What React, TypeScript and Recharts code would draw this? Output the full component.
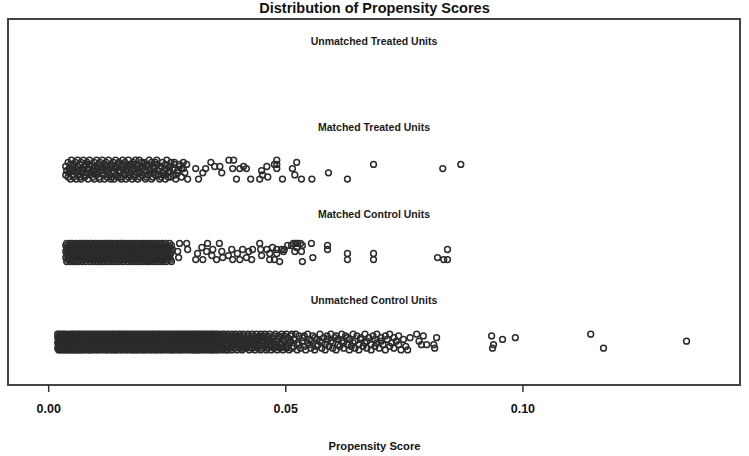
import { ReferenceArea, Scatter, ScatterChart, XAxis, YAxis } from "recharts";

const X_MIN = -0.00858;
const X_MAX = 0.14578;
const Y_MIN = 0.0089;
const Y_MAX = 4.1917;
const X_TICKS = [0, 0.05, 0.1];

const GROUP_NAMES = [
  "Unmatched Treated Units",
  "Matched Treated Units",
  "Matched Control Units",
  "Unmatched Control Units",
];
const GROUP_LABEL_Y = [3.943, 2.96, 1.963, 0.986];
const GROUP_ROW_Y = [3.5, 2.47, 1.523, 0.5];
const GROUP_JITTER = [0.023, 0.024, 0.023, 0.02];

// propensity score x 10^4, followed by the jitter slots of the points at that score (0 = top, 9 = bottom)
const UNMATCHED_TREATED: [number, string][] = [];

const MATCHED_TREATED: [number, string][] = [
  [36, "37"], [38, "5"], [41, "18"], [43, "46"], [46, "29"], [48, "05"], [51, "37"], [53, "82"], [56, "14"], [58, "69"],
  [61, "03"], [63, "57"], [66, "28"], [68, "91"], [71, "46"], [73, "05"], [76, "38"], [78, "72"], [81, "16"], [83, "49"],
  [86, "02"], [88, "67"], [91, "35"], [93, "84"], [96, "19"], [98, "53"], [101, "07"], [103, "46"], [106, "28"], [108, "91"],
  [111, "35"], [113, "60"], [116, "74"], [118, "29"], [121, "13"], [123, "58"], [126, "06"], [128, "47"], [131, "92"], [133, "38"],
  [136, "15"], [138, "69"], [141, "04"], [143, "73"], [146, "28"], [148, "51"], [151, "86"], [153, "39"], [156, "02"], [158, "64"],
  [161, "17"], [163, "95"], [166, "43"], [168, "08"], [171, "72"], [173, "36"], [176, "59"], [178, "14"], [181, "87"], [183, "20"],
  [186, "46"], [188, "93"], [191, "05"], [193, "68"], [196, "31"], [198, "74"], [201, "12"], [204, "59"], [206, "83"], [209, "27"],
  [212, "06"], [214, "45"], [217, "91"], [220, "38"], [222, "64"], [225, "17"], [228, "02"], [231, "75"], [234, "49"], [237, "83"],
  [240, "16"], [243, "57"], [246, "29"], [249, "04"], [252, "68"], [255, "35"], [258, "81"], [262, "47"], [265, "12"], [268, "79"],
  [272, "56"], [276, "23"], [280, "84"], [284, "41"], [287, "6"],
  [291, "2"], [293, "9"], [310, "4"], [316, "9"], [325, "6"], [331, "4"], [342, "1"], [350, "3"], [361, "3"], [365, "6"],
  [380, "0"], [388, "4"], [390, "0"], [396, "9"], [403, "4"], [411, "3"], [417, "4"], [426, "9"], [445, "9"], [449, "5"],
  [451, "7"], [460, "3"], [462, "8"], [476, "2"], [481, "024"], [493, "9"], [514, "4"], [519, "7"], [523, "1"], [533, "9"],
  [555, "9"], [590, "6"], [630, "9"], [685, "2"], [831, "4"], [869, "2"],
];

const MATCHED_CONTROL: [number, string][] = [
  [36, "147"], [38, "0592"], [40, "368"], [43, "1574"], [45, "2960"], [47, "483"], [50, "1706"], [52, "395"], [54, "2814"], [57, "069"],
  [59, "5372"], [61, "148"], [64, "2960"], [66, "735"], [68, "0481"], [71, "269"], [73, "5173"], [75, "840"], [78, "3619"], [80, "052"],
  [82, "7284"], [85, "163"], [87, "4908"], [89, "275"], [92, "6031"], [94, "849"], [96, "1527"], [99, "360"], [101, "9284"], [103, "175"],
  [106, "0463"], [108, "892"], [110, "3517"], [113, "046"], [115, "7289"], [117, "153"], [120, "6804"], [122, "297"], [124, "4130"], [127, "586"],
  [129, "0792"], [131, "341"], [134, "8605"], [136, "279"], [138, "1453"], [141, "068"], [143, "9372"], [145, "514"], [148, "2806"], [150, "739"],
  [152, "0451"], [155, "682"], [157, "3970"], [159, "145"], [162, "5283"], [164, "706"], [166, "1948"], [169, "352"], [171, "6017"], [173, "849"],
  [176, "2465"], [178, "031"], [180, "7598"], [183, "264"], [185, "0813"], [187, "579"], [190, "3146"], [192, "802"], [194, "6935"], [197, "417"],
  [199, "0268"], [201, "593"], [204, "1740"], [206, "386"], [208, "9251"], [211, "047"], [213, "6389"], [215, "152"], [218, "7406"], [220, "938"],
  [222, "2517"], [225, "064"], [227, "8392"], [229, "175"], [232, "4608"], [234, "293"], [236, "5147"], [239, "806"], [241, "3972"], [243, "518"],
  [246, "0643"], [248, "279"], [250, "8415"], [253, "36"], [255, "072"], [257, "58"], [259, "914"], [261, "3"],
  [272, "4"], [274, "7"], [276, "0"], [291, "0"], [293, "3"],
  [310, "8"], [314, "5"], [323, "2"], [325, "8"], [333, "4"], [335, "0"], [344, "6"], [346, "3"], [354, "8"], [360, "0"],
  [365, "4"], [367, "7"], [379, "6"], [386, "3"], [388, "8"], [398, "5"], [403, "8"], [409, "3"], [417, "7"], [422, "4"],
  [428, "8"], [430, "3"], [445, "0"], [447, "3"], [449, "6"], [460, "3"], [466, "58"], [472, "2"], [476, "8"], [481, "35"],
  [487, "9"], [491, "3"], [495, "4"], [497, "3"], [504, "1"], [512, "1"], [516, "0"], [519, "4"], [521, "0"], [523, "2"],
  [525, "0"], [531, "0"], [533, "4"], [535, "19"], [554, "0"], [557, "7"], [588, "13"], [630, "58"], [685, "58"], [820, "7"],
  [833, "8"], [841, "38"],
];

const UNMATCHED_CONTROL: [number, string][] = [
  [19, "2580"], [21, "14697"], [23, "0368"], [25, "25791"], [28, "0347"], [30, "16829"], [32, "4058"], [35, "27913"], [37, "0864"], [39, "13579"],
  [42, "2468"], [44, "05917"], [46, "3826"], [49, "14790"], [51, "2658"], [53, "03491"], [56, "5827"], [58, "16940"], [60, "2375"], [63, "08619"],
  [65, "4152"], [67, "36970"], [70, "1845"], [72, "29603"], [74, "5178"], [77, "04926"], [79, "3681"], [81, "15704"], [84, "2869"], [86, "04135"],
  [88, "7926"], [91, "13580"], [93, "4697"], [95, "02851"], [98, "3764"], [100, "19058"], [102, "2643"], [105, "07915"], [107, "3486"], [109, "15270"],
  [112, "6938"], [114, "04152"], [116, "8367"], [119, "29041"], [121, "5783"], [123, "16930"], [126, "2478"], [128, "05613"], [130, "9274"], [133, "13860"],
  [135, "4592"], [137, "07138"], [140, "2695"], [142, "14807"], [144, "3926"], [147, "05471"], [149, "8263"], [151, "19504"], [154, "3786"], [156, "02691"],
  [158, "4517"], [161, "08362"], [163, "2974"], [165, "15830"], [168, "4692"], [170, "07153"], [172, "8246"], [175, "39017"], [177, "5684"], [179, "12930"],
  [182, "4758"], [184, "06291"], [186, "3847"], [189, "15960"], [191, "2473"], [193, "08615"], [196, "3792"], [198, "14058"], [200, "6293"], [203, "07481"],
  [205, "2596"], [207, "13704"], [210, "8265"], [212, "04931"], [214, "5786"], [217, "12690"], [219, "3548"], [221, "07261"], [224, "4983"], [226, "15720"],
  [228, "3694"], [231, "08153"], [233, "2746"], [235, "19508"], [238, "3672"], [240, "04915"], [242, "8263"], [245, "17340"], [247, "5896"], [249, "02617"],
  [252, "4385"], [254, "19720"], [256, "5364"], [259, "08197"], [261, "2546"], [263, "13980"], [266, "4672"], [268, "05183"], [270, "9247"], [273, "16530"],
  [275, "3894"], [277, "07261"], [280, "4519"], [282, "28063"], [284, "1746"], [287, "05928"], [289, "3617"], [291, "14802"], [294, "5973"], [296, "02648"],
  [298, "3715"], [301, "18092"], [303, "4567"], [305, "02839"], [308, "1674"], [310, "59301"], [312, "2846"], [315, "07193"], [317, "5268"], [319, "14930"],
  [322, "3785"], [324, "06241"], [326, "9573"], [329, "18602"], [331, "4395"], [333, "07148"], [336, "2563"], [338, "19740"], [340, "3826"], [343, "05917"],
  [345, "4682"], [347, "13059"], [350, "2746"], [352, "08391"], [354, "5167"], [357, "2904"], [359, "683"],
  [362, "158"], [365, "3907"], [367, "26"], [370, "0481"], [373, "759"], [375, "13"], [378, "6920"], [381, "48"], [383, "157"], [386, "0936"],
  [389, "274"], [392, "81"], [394, "5063"], [397, "29"], [400, "174"], [403, "8360"], [406, "52"], [408, "917"], [411, "0486"], [414, "35"],
  [417, "728"], [420, "1604"], [423, "93"], [426, "257"], [429, "08"], [432, "6413"], [435, "79"], [438, "025"], [441, "84"], [444, "3617"],
  [447, "90"], [450, "258"], [453, "14"], [456, "706"], [459, "39"], [462, "5182"], [466, "04"], [469, "967"], [472, "23"], [475, "518"],
  [478, "06"], [482, "749"], [485, "31"], [488, "862"], [491, "05"], [494, "397"], [497, "14"], [501, "680"], [504, "27"], [507, "953"],
  [510, "41"], [513, "08"],
  [517, "37"], [521, "0"], [524, "59"], [528, "16"], [531, "8"], [535, "24"], [539, "71"], [542, "9"], [546, "05"], [550, "63"],
  [553, "48"], [557, "1"], [561, "92"], [565, "37"], [568, "6"], [572, "04"], [576, "85"], [580, "2"], [583, "69"], [587, "13"],
  [591, "7"], [595, "40"], [599, "58"], [603, "2"], [606, "91"], [610, "36"], [614, "7"], [618, "04"], [622, "85"], [626, "1"],
  [630, "62"], [634, "39"], [638, "7"], [642, "05"], [646, "48"], [650, "1"], [654, "96"], [658, "23"], [663, "7"], [667, "50"],
  [671, "84"], [675, "2"], [680, "69"], [684, "1"], [688, "37"], [692, "05"], [697, "8"], [701, "42"], [705, "6"], [710, "19"],
  [714, "3"], [719, "70"], [723, "5"], [728, "82"], [733, "4"], [738, "16"], [743, "9"], [748, "3"], [753, "7"],
  [757, "9"], [762, "2"], [776, "0"], [781, "4"], [786, "6"], [790, "1"], [797, "6"], [812, "6"], [814, "8"], [818, "2"],
  [934, "1"], [936, "8"], [938, "6"], [957, "3"], [984, "2"], [1143, "0"], [1170, "8"], [1345, "4"],
];

const GROUP_DATA = [UNMATCHED_TREATED, MATCHED_TREATED, MATCHED_CONTROL, UNMATCHED_CONTROL];

function toPoints(rows: [number, string][], rowY: number, step: number) {
  return rows.flatMap(([score, slots]) =>
    slots.split("").map((s) => ({ x: score / 10000, y: rowY + (4.5 - Number(s)) * step }))
  );
}

const labelData = GROUP_NAMES.map((name, i) => ({ x: (X_MIN + X_MAX) / 2, y: GROUP_LABEL_Y[i], name }));

const FONT = "'Liberation Sans', Arial, sans-serif";

const Ring = (props: any) => {
  const { cx, cy } = props;
  if (cx == null || cy == null) return null;
  return <circle cx={cx} cy={cy} r={2.9} fill="none" stroke="#2b2b2b" strokeWidth={1.5} />;
};

const GroupLabel = (props: any) => {
  const { cx, cy, payload } = props;
  return (
    <text
      x={cx}
      y={cy}
      textAnchor="middle"
      dominantBaseline="central"
      fontFamily={FONT}
      fontSize={10.5}
      fontWeight="bold"
      fill="#1a1a1a"
    >
      {payload.name}
    </text>
  );
};

export default function App() {
  return (
    <div style={{ position: "absolute", left: 0, top: 0, width: 749, height: 456, background: "#fff" }}>
      <div
        style={{
          position: "absolute",
          top: 0,
          width: 749,
          textAlign: "center",
          fontFamily: FONT,
          fontWeight: "bold",
          fontSize: 14.5,
          lineHeight: "16px",
          color: "#111",
        }}
      >
        Distribution of Propensity Scores
      </div>
      <ScatterChart width={749} height={456} margin={{ top: 19, right: 9, bottom: 41, left: 8 }}>
        <XAxis
          type="number"
          dataKey="x"
          domain={[X_MIN, X_MAX]}
          allowDataOverflow
          ticks={X_TICKS}
          interval={0}
          tickFormatter={(v: number) => v.toFixed(2)}
          axisLine={false}
          tickSize={7}
          tickMargin={12}
          height={30}
          tickLine={{ stroke: "#333", strokeWidth: 1.5 }}
          tick={{ fontSize: 12.5, fontWeight: "bold", fill: "#111", fontFamily: FONT }}
        />
        <YAxis type="number" dataKey="y" domain={[Y_MIN, Y_MAX]} allowDataOverflow hide />
        <ReferenceArea
          x1={X_MIN}
          x2={X_MAX}
          y1={Y_MIN}
          y2={Y_MAX}
          fill="none"
          stroke="#444"
          strokeWidth={2}
          ifOverflow="visible"
        />
        {GROUP_DATA.map((rows, i) => (
          <Scatter
            key={GROUP_NAMES[i]}
            name={GROUP_NAMES[i]}
            data={toPoints(rows, GROUP_ROW_Y[i], GROUP_JITTER[i])}
            shape={Ring}
            isAnimationActive={false}
          />
        ))}
        <Scatter data={labelData} shape={GroupLabel} isAnimationActive={false} />
      </ScatterChart>
      <div
        style={{
          position: "absolute",
          top: 439,
          width: 749,
          textAlign: "center",
          fontFamily: FONT,
          fontWeight: "bold",
          fontSize: 11.2,
          lineHeight: "14px",
          color: "#111",
        }}
      >
        Propensity Score
      </div>
    </div>
  );
}
